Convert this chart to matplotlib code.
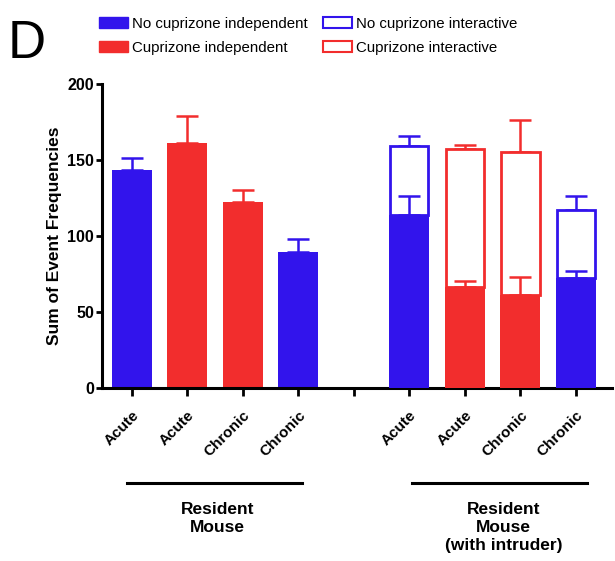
import matplotlib
matplotlib.use("Agg")
import matplotlib.pyplot as plt
from matplotlib.patches import Patch
import numpy as np

plt.rcParams['font.family'] = ['Liberation Sans', 'DejaVu Sans']

BLUE = '#3214ec'
RED = '#f22d2d'

tick_labels = ["Acute", "Acute", "Chronic", "Chronic", "", "Acute", "Acute", "Chronic", "Chronic"]

# Resident mouse (independent only)
res_pos = [0, 1, 2, 3]
res_vals = [143, 161, 122, 89]
res_err = [8, 18, 8, 9]
res_cup = [False, True, True, False]

# Resident mouse with intruder (independent + interactive stacked)
int_pos = [5, 6, 7, 8]
int_indep = [114, 66, 61, 72]
int_indep_err = [12, 4, 12, 5]
int_inter = [45, 91, 94, 45]
int_total_err = [7, 3, 21, 9]
int_cup = [False, True, True, False]

groups = ["Resident\nMouse", "Resident\nMouse\n(with intruder)"]
legend_labels = ["No cuprizone independent", "Cuprizone independent",
                 "No cuprizone interactive", "Cuprizone interactive"]

fig = plt.figure(figsize=(6.15, 5.61), dpi=100)
ax = fig.add_axes([101.7/615, 1-387.5/561, (612-101.7)/615, (387.5-84)/561])

W = 0.72
ekw = dict(elinewidth=1.8, capthick=1.8, capsize=8)
for x, v, e, c in zip(res_pos, res_vals, res_err, res_cup):
    col = RED if c else BLUE
    ax.bar(x, v, W, color=col, edgecolor='none', zorder=2)
    ax.errorbar(x, v, yerr=[[0], [e]], color=col, fmt='none', zorder=1, **ekw)

for x, v, e, iv, te, c in zip(int_pos, int_indep, int_indep_err, int_inter, int_total_err, int_cup):
    col = RED if c else BLUE
    ax.bar(x, iv, W - 0.03, bottom=v, facecolor='white', edgecolor=col, linewidth=2, zorder=2)
    ax.bar(x, v, W, color=col, edgecolor='none', zorder=3)
    ax.errorbar(x, v, yerr=[[0], [e]], color=col, fmt='none', zorder=4, **ekw)
    ax.errorbar(x, v + iv, yerr=[[0], [te]], color=col, fmt='none', zorder=1, **ekw)

ax.set_xlim(-0.54, 8.65)
ax.set_ylim(0, 200)
ax.set_yticks([0, 50, 100, 150, 200])
ax.set_xticks(range(9))
ax.set_xticklabels(tick_labels, rotation=45, ha='right', rotation_mode='anchor',
                   fontsize=11, fontweight='bold')
for lab in ax.get_yticklabels():
    lab.set_fontweight('bold')
ax.tick_params(axis='y', labelsize=11.5, width=2, length=4, pad=1.5)
ax.tick_params(axis='x', width=2, length=6, pad=9)
for s in ['top', 'right']:
    ax.spines[s].set_visible(False)
for s in ['left', 'bottom']:
    ax.spines[s].set_linewidth(2.2)
ax.set_ylabel("Sum of Event Frequencies", fontsize=12.5, fontweight='bold', labelpad=4)

# group annotation lines and labels
trans = ax.get_xaxis_transform()
yline = -(483 - 387.5) / (387.5 - 84)
ax.plot([-0.08, 3.07], [yline, yline], color='black', lw=2.2, transform=trans, clip_on=False)
ax.plot([5.05, 8.2], [yline, yline], color='black', lw=2.2, transform=trans, clip_on=False)
ax.text(1.55, yline - 0.062, groups[0], transform=trans, ha='center', va='top',
        fontsize=12.5, fontweight='bold', linespacing=1.24)
ax.text(6.7, yline - 0.062, groups[1], transform=trans, ha='center', va='top',
        fontsize=12.5, fontweight='bold', linespacing=1.24)

# legend
handles = [Patch(facecolor=BLUE, edgecolor=BLUE),
           Patch(facecolor=RED, edgecolor=RED),
           Patch(facecolor='white', edgecolor=BLUE, linewidth=1.5),
           Patch(facecolor='white', edgecolor=RED, linewidth=1.5)]
fig.legend(handles, legend_labels, ncol=2, loc='upper left',
           bbox_to_anchor=(99/615, 1 - 17/561), frameon=False, fontsize=10.8,
           handlelength=1.95, handleheight=0.75, handletextpad=0.25,
           columnspacing=1.0, labelspacing=0.68, borderpad=0, borderaxespad=0)

fig.text(8/615, 1 - 58/561, "D", fontsize=38, ha='left', va='baseline')

fig.savefig("out.png", dpi=100)
